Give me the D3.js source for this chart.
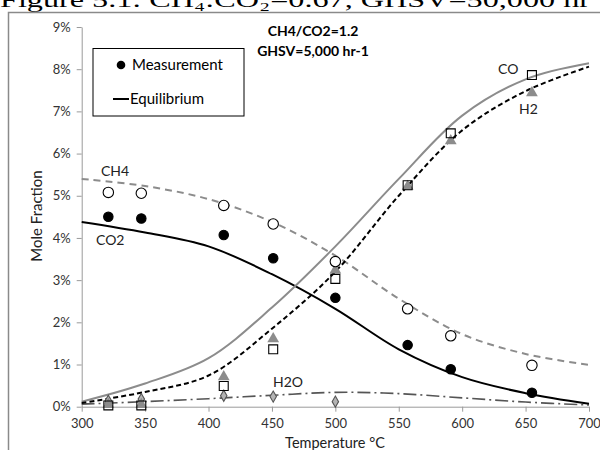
<!DOCTYPE html>
<html>
<head>
<meta charset="utf-8">
<script src="https://cdn.jsdelivr.net/npm/d3@7"></script>
<style>
  body { margin: 0; background: #fff; }
  text { font-family: Lato, "Liberation Sans", sans-serif; }
</style>
</head>
<body>
<div id="chart"></div>
<script>
// measured temperatures
const measT = [321, 347, 412, 451, 500, 557, 591, 655];
const measCH4 = [5.08, 5.06, 4.77, 4.33, 3.44, 2.32, 1.68, 0.98];
const measCO2 = [4.50, 4.46, 4.07, 3.52, 2.58, 1.46, 0.89, 0.33];
const measCO  = [0.03, 0.03, 0.49, 1.36, 3.03, 5.25, 6.48, 7.86];
const measH2  = [0.05, 0.05, 0.71, 1.61, 3.24, 5.22, 6.30, 7.44];
const measT_H2O = [321, 347, 412, 451, 500];
const measH2O = [0.14, 0.18, 0.26, 0.24, 0.12];

// equilibrium curves
const eqT   = [300, 350, 400, 450, 500, 550, 600, 650, 700];
const eqCH4 = [5.40, 5.23, 4.92, 4.38, 3.58, 2.56, 1.72, 1.25, 0.99];
const eqCO2 = [4.38, 4.13, 3.80, 3.14, 2.32, 1.36, 0.70, 0.32, 0.07];
const eqCO  = [0.12, 0.55, 1.15, 2.35, 3.80, 5.40, 6.90, 7.76, 8.14];
const eqH2  = [0.09, 0.35, 0.74, 1.85, 3.20, 5.00, 6.55, 7.48, 8.06];
const eqH2O = [0.06, 0.12, 0.19, 0.27, 0.34, 0.31, 0.21, 0.11, 0.04];

const xTicks = [300, 350, 400, 450, 500, 550, 600, 650, 700];
const yTicks = [0, 1, 2, 3, 4, 5, 6, 7, 8, 9];

const width = 600, height = 450;
const svg = d3.select("#chart").append("svg")
    .attr("width", width)
    .attr("height", height);

// figure caption, clipped at the top like the source page
svg.append("text")
    .attr("x", 0).attr("y", 7)
    .style("font-family", "'Liberation Serif', serif")
    .style("font-size", "22px")
    .attr("textLength", 590)
    .attr("lengthAdjust", "spacingAndGlyphs")
    .text("Figure 5.1:  CH₄:CO₂=0.67, GHSV=50,000 hr");

// chart frame
svg.append("rect")
    .attr("x", 8.5).attr("y", 12.5)
    .attr("width", 620).attr("height", 460)
    .attr("fill", "none")
    .attr("stroke", "#8a8a8a")
    .attr("stroke-width", 1.5);

const x = d3.scaleLinear().domain([300, 700]).range([81.7, 589]);
const y = d3.scaleLinear().domain([0, 9]).range([406.7, 27]);

// axes
const xAxis = svg.append("g")
    .attr("transform", `translate(0,${y(0)})`)
    .call(d3.axisBottom(x).tickValues(xTicks).tickSize(5).tickPadding(7).tickSizeOuter(0));
const yAxis = svg.append("g")
    .attr("transform", `translate(${x(300)},0)`)
    .call(d3.axisLeft(y).tickValues(yTicks).tickSize(5).tickPadding(6).tickSizeOuter(0)
        .tickFormat(d => d + "%"));
[xAxis, yAxis].forEach(g => {
    g.selectAll("path, line").attr("stroke", "#9a9a9a");
    g.selectAll("text").attr("fill", "#333").style("font-size", "13px")
        .style("font-family", "Lato, 'Liberation Sans', sans-serif");
});

svg.append("text")
    .attr("transform", "translate(42,216) rotate(-90)")
    .attr("text-anchor", "middle")
    .style("font-size", "15px").attr("fill", "#222")
    .text("Mole Fraction");
svg.append("text")
    .attr("x", 335).attr("y", 448)
    .attr("text-anchor", "middle")
    .style("font-size", "14.5px").attr("fill", "#222")
    .text("Temperature °C");

// equilibrium lines
const line = d3.line().x(d => x(d[0])).y(d => y(d[1])).curve(d3.curveCatmullRom.alpha(0.5));
function eqLine(vals, color, dash, w) {
    svg.append("path")
        .datum(eqT.map((t, i) => [t, vals[i]]))
        .attr("d", line)
        .attr("fill", "none")
        .attr("stroke", color)
        .attr("stroke-width", w)
        .attr("stroke-dasharray", dash);
}
eqLine(eqH2O, "#555", "13,4,2,4", 1.6);
eqLine(eqCH4, "#8c8c8c", "7,5", 2);
eqLine(eqCO2, "#000", null, 2);
eqLine(eqCO, "#8c8c8c", null, 2);
eqLine(eqH2, "#000", "5,3", 2);

// markers
const sym = (type, size) => d3.symbol().type(type).size(size);
function markers(ts, vals, type, size, fill, stroke) {
    svg.append("g").selectAll("path")
        .data(ts.map((t, i) => [t, vals[i]]))
        .join("path")
        .attr("transform", d => `translate(${x(d[0])},${y(d[1])})`)
        .attr("d", sym(type, size))
        .attr("fill", fill)
        .attr("stroke", stroke)
        .attr("stroke-width", 1.1);
}
markers(measT_H2O, measH2O, d3.symbolDiamond, 36, "#b4b4b4", "#555");
markers(measT, measH2, d3.symbolTriangle, 60, "#8c8c8c", "none");
markers(measT, measCO, d3.symbolSquare, 80, "none", "#000");
markers(measT, measCH4, d3.symbolCircle, 85, "#fff", "#000");
markers(measT, measCO2, d3.symbolCircle, 70, "#000", "#000");

// series labels
const labels = [
    ["CH4", 101, 176], ["CO2", 96, 245], ["CO", 498, 74],
    ["H2", 519, 114], ["H2O", 273, 387]
];
svg.append("g").selectAll("text")
    .data(labels).join("text")
    .attr("x", d => d[1]).attr("y", d => d[2])
    .style("font-size", "14px").attr("fill", "#222")
    .text(d => d[0]);

// annotation
svg.append("text")
    .attr("x", 313).attr("y", 36).attr("text-anchor", "middle")
    .style("font-size", "14px").style("font-weight", "bold")
    .text("CH4/CO2=1.2");
svg.append("text")
    .attr("x", 313).attr("y", 56).attr("text-anchor", "middle")
    .style("font-size", "14px").style("font-weight", "bold")
    .text("GHSV=5,000 hr-1");

// legend
const legend = svg.append("g");
legend.append("rect")
    .attr("x", 93).attr("y", 48.5).attr("width", 151).attr("height", 67.5)
    .attr("fill", "#fff").attr("stroke", "#000").attr("stroke-width", 1);
legend.append("circle")
    .attr("cx", 121).attr("cy", 65).attr("r", 4.3).attr("fill", "#000");
legend.append("text")
    .attr("x", 132).attr("y", 70).style("font-size", "15px").text("Measurement");
legend.append("line")
    .attr("x1", 113).attr("x2", 129).attr("y1", 99).attr("y2", 99)
    .attr("stroke", "#000").attr("stroke-width", 2);
legend.append("text")
    .attr("x", 130).attr("y", 104).style("font-size", "15px").text("Equilibrium");
</script>
</body>
</html>
